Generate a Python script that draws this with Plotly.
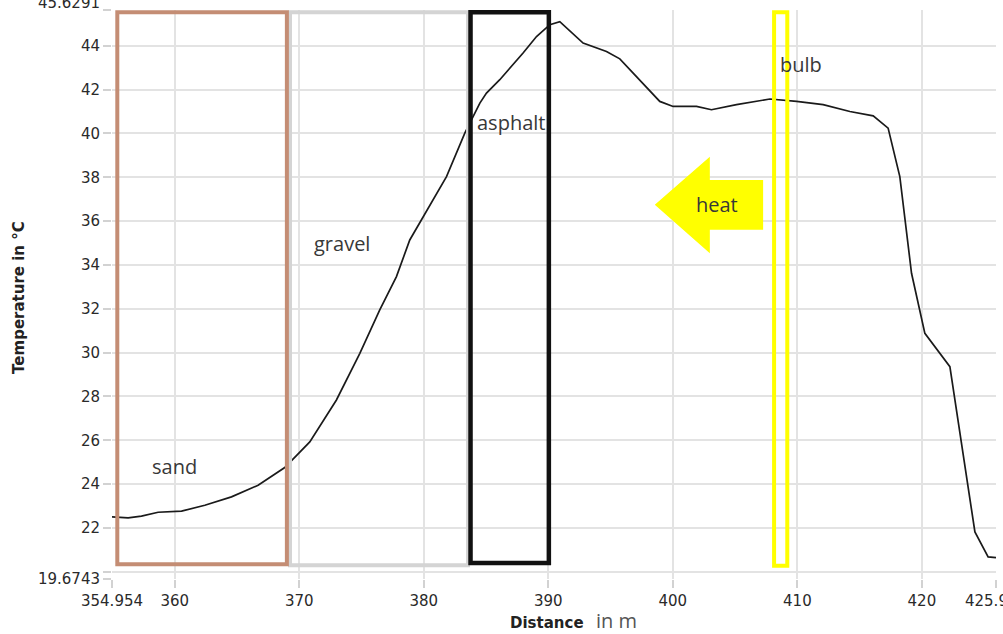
import plotly.graph_objects as go

# Temperature profile along the measured distance
distance_m = [354.954, 356.25, 357.32, 358.66, 360.54, 362.41, 364.55, 366.69, 368.83,
              369.50, 370.84, 372.98, 374.86, 376.46, 377.80, 378.87, 379.94, 381.82,
              383.29, 384.50, 385.03, 386.10, 387.97, 389.05, 390.12, 390.92, 392.79,
              394.67, 395.74, 397.34, 398.95, 400.02, 401.90, 403.10, 405.11, 407.79,
              409.94, 412.07, 414.22, 416.09, 417.29, 418.23, 419.17, 420.24, 422.25,
              424.26, 425.32, 425.954]
temperature_c = [22.51, 22.46, 22.54, 22.72, 22.77, 23.04, 23.42, 23.95, 24.76,
                 25.15, 25.93, 27.84, 29.97, 31.95, 33.47, 35.14, 36.21, 38.03,
                 40.01, 41.38, 41.84, 42.45, 43.67, 44.42, 44.96, 45.10, 44.12,
                 43.74, 43.40, 42.45, 41.46, 41.23, 41.23, 41.08, 41.31, 41.57,
                 41.46, 41.31, 41.00, 40.80, 40.24, 38.03, 33.62, 30.88, 29.36,
                 21.82, 20.68, 20.65]

x_range = [354.954, 425.954]
y_range = [19.6743, 45.6291]
x_ticks = [360, 370, 380, 390, 400, 410, 420]
y_ticks = [20, 22, 24, 26, 28, 30, 32, 34, 36, 38, 40, 42, 44]
y_ticktext = ["", "22", "24", "26", "28", "30", "32", "34", "36", "38", "40", "42", "44"]

TICK_FONT = dict(family="DejaVu Sans", size=15, color="#2a2a2a")
LABEL_FONT = dict(family="Open Sans", size=20, color="#383838")
GRID = "#e3e3e3"
TICKC = "#d2d2d2"

fig = go.Figure()
fig.add_trace(go.Scatter(x=distance_m, y=temperature_c, mode="lines",
                         line=dict(color="#1a1a1a", width=1.7),
                         showlegend=False, hoverinfo="x+y"))
# helper traces so the edge-value axes get drawn
fig.add_trace(go.Scatter(x=[], y=[], xaxis="x2", yaxis="y2", showlegend=False))
fig.add_trace(go.Scatter(x=[], y=[], xaxis="x", yaxis="y3", showlegend=False))

axis_common = dict(showline=False, zeroline=False, ticks="outside", ticklen=8,
                   tickcolor=TICKC, tickwidth=1.5, tickfont=TICK_FONT,
                   ticklabeloverflow="allow", automargin=False)

fig.update_layout(
    width=1003, height=634,
    margin=dict(l=112, r=7, t=10, b=55, autoexpand=False),
    paper_bgcolor="white", plot_bgcolor="white",
    xaxis=dict(range=x_range, tickvals=x_ticks, showgrid=True, gridcolor=GRID,
               gridwidth=1.5, **axis_common),
    xaxis2=dict(range=x_range, overlaying="x", anchor="y", side="bottom",
                tickvals=x_range, ticktext=["354.954", "425.954"], showgrid=False,
                **axis_common),
    yaxis=dict(range=y_range, tickvals=y_ticks, ticktext=y_ticktext, showgrid=True,
               gridcolor=GRID, gridwidth=1.5, **axis_common),
    yaxis2=dict(range=y_range, overlaying="y", anchor="x", side="left",
                tickvals=[y_range[0]], ticktext=["19.6743"], showgrid=False,
                **axis_common),
    yaxis3=dict(range=y_range, overlaying="y", anchor="x", side="left",
                tickvals=[y_range[1]], ticktext=["45.6291"], showgrid=False,
                ticklabelshift=-7, **axis_common),
)

# surface zones
zones = [
    dict(x0=369.25, x1=383.55, y0=20.30, color="#d4d4d4", width=4),   # gravel
    dict(x0=355.38, x1=369.00, y0=20.35, color="#c48d74", width=4),   # sand
    dict(x0=383.75, x1=390.04, y0=20.40, color="#111111", width=4.5), # asphalt
    dict(x0=408.13, x1=409.19, y0=20.28, color="#ffff00", width=4),   # bulb
]
for z in zones:
    fig.add_shape(type="rect", xref="x", yref="y", x0=z["x0"], x1=z["x1"],
                  y0=z["y0"], y1=45.53, line=dict(color=z["color"], width=z["width"]),
                  fillcolor="rgba(0,0,0,0)", layer="above")

# heat arrow pointing left
fig.add_shape(type="path", xref="x", yref="y",
              path="M 398.55,36.74 L 402.97,38.94 L 402.97,37.88 L 407.25,37.88 "
                   "L 407.25,35.60 L 402.97,35.60 L 402.97,34.53 Z",
              fillcolor="#ffff00", line=dict(width=0), layer="above")

labels = [("sand", 359.96, 24.82), ("gravel", 373.45, 35.0),
          ("asphalt", 387.03, 40.48), ("bulb", 410.27, 43.13), ("heat", 403.58, 36.74)]
for text, lx, ly in labels:
    fig.add_annotation(x=lx, y=ly, xref="x", yref="y", text=text, showarrow=False,
                       font=LABEL_FONT, xanchor="center", yanchor="middle")

# axis titles
fig.add_annotation(x=-0.1054, y=0.4955, xref="paper", yref="paper",
                   text="<b>Temperature in °C</b>", textangle=-90, showarrow=False,
                   font=dict(family="DejaVu Sans", size=15, color="#222222"),
                   xanchor="center", yanchor="middle")
fig.add_annotation(x=0.4923, y=-0.0781, xref="paper", yref="paper",
                   text="<b>Distance</b>", showarrow=False,
                   font=dict(family="DejaVu Sans", size=15, color="#222222"),
                   xanchor="center", yanchor="middle")
fig.add_annotation(x=0.5703, y=-0.0728, xref="paper", yref="paper",
                   text="in m", showarrow=False,
                   font=dict(family="Open Sans", size=20, color="#555555"),
                   xanchor="center", yanchor="middle")

fig.write_html("out.html")
